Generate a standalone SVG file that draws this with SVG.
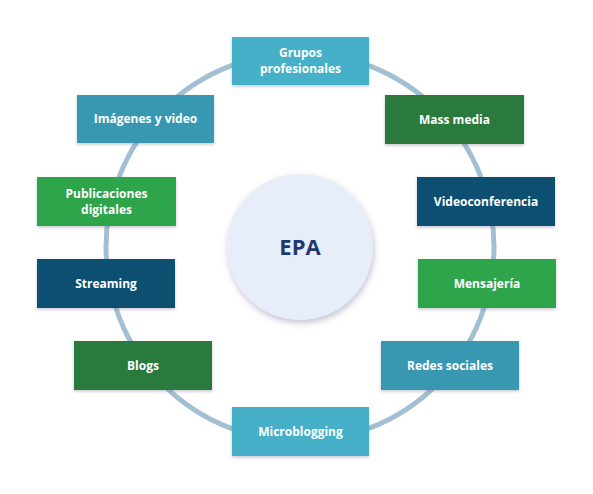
<svg xmlns="http://www.w3.org/2000/svg" width="593" height="494" viewBox="0 0 593 494">
<defs>
<filter id="sh" x="-20%" y="-20%" width="140%" height="150%">
<feDropShadow dx="0" dy="1.5" stdDeviation="1.5" flood-color="#5a5a7a" flood-opacity="0.35"/>
</filter>
<filter id="csh" x="-30%" y="-30%" width="160%" height="160%">
<feDropShadow dx="1" dy="3" stdDeviation="3" flood-color="#8c82a8" flood-opacity="0.5"/>
</filter>
<style>
.b{filter:url(#sh)}
.t{font-family:"Open Sans","Noto Sans","Liberation Sans",sans-serif;font-weight:bold;font-size:12px;fill:#ffffff;text-anchor:middle}
.c1{fill:#45b0c7}.c2{fill:#3898b2}.c3{fill:#2b7a3d}.c4{fill:#2fa44b}.c5{fill:#0f506f}
</style>
</defs>
<rect width="593" height="494" fill="#ffffff"/>
<g id="connectors">
<circle cx="300" cy="247" r="194" fill="none" stroke="#a3bfd3" stroke-width="5"/>
</g>
<g id="center">
<circle cx="300" cy="247" r="73" fill="#e8eef9" filter="url(#csh)"/>
<text x="300" y="255" font-family="'Open Sans','Noto Sans','Liberation Sans',sans-serif" font-weight="bold" font-size="22" fill="#1f3a70" text-anchor="middle">EPA</text>
</g>
<g id="grupos"><rect class="b c1" x="232" y="37" width="137" height="48"/><text class="t" x="300.5" y="57">Grupos</text><text class="t" x="300.5" y="73">profesionales</text></g>
<g id="imagenes"><rect class="b c2" x="77" y="95" width="137" height="48"/><text class="t" x="145.5" y="123">Imágenes y video</text></g>
<g id="massmedia"><rect class="b c3" x="385" y="95" width="139" height="49"/><text class="t" x="454.5" y="123.5">Mass media</text></g>
<g id="publicaciones"><rect class="b c4" x="37" y="177" width="139" height="49"/><text class="t" x="106.5" y="197.5">Publicaciones</text><text class="t" x="106.5" y="213.5">digitales</text></g>
<g id="videoconferencia"><rect class="b c5" x="417" y="177" width="138" height="49"/><text class="t" x="486" y="205.5">Videoconferencia</text></g>
<g id="streaming"><rect class="b c5" x="37" y="259" width="138" height="49"/><text class="t" x="106" y="287.5">Streaming</text></g>
<g id="mensajeria"><rect class="b c4" x="418" y="259" width="138" height="49"/><text class="t" x="487" y="287.5">Mensajería</text></g>
<g id="blogs"><rect class="b c3" x="74" y="341" width="138" height="49"/><text class="t" x="143" y="369.5">Blogs</text></g>
<g id="redes"><rect class="b c2" x="381" y="341" width="138" height="49"/><text class="t" x="450" y="369.5">Redes sociales</text></g>
<g id="microblogging"><rect class="b c1" x="232" y="407" width="137" height="49"/><text class="t" x="300.5" y="435.5">Microblogging</text></g>
</svg>
